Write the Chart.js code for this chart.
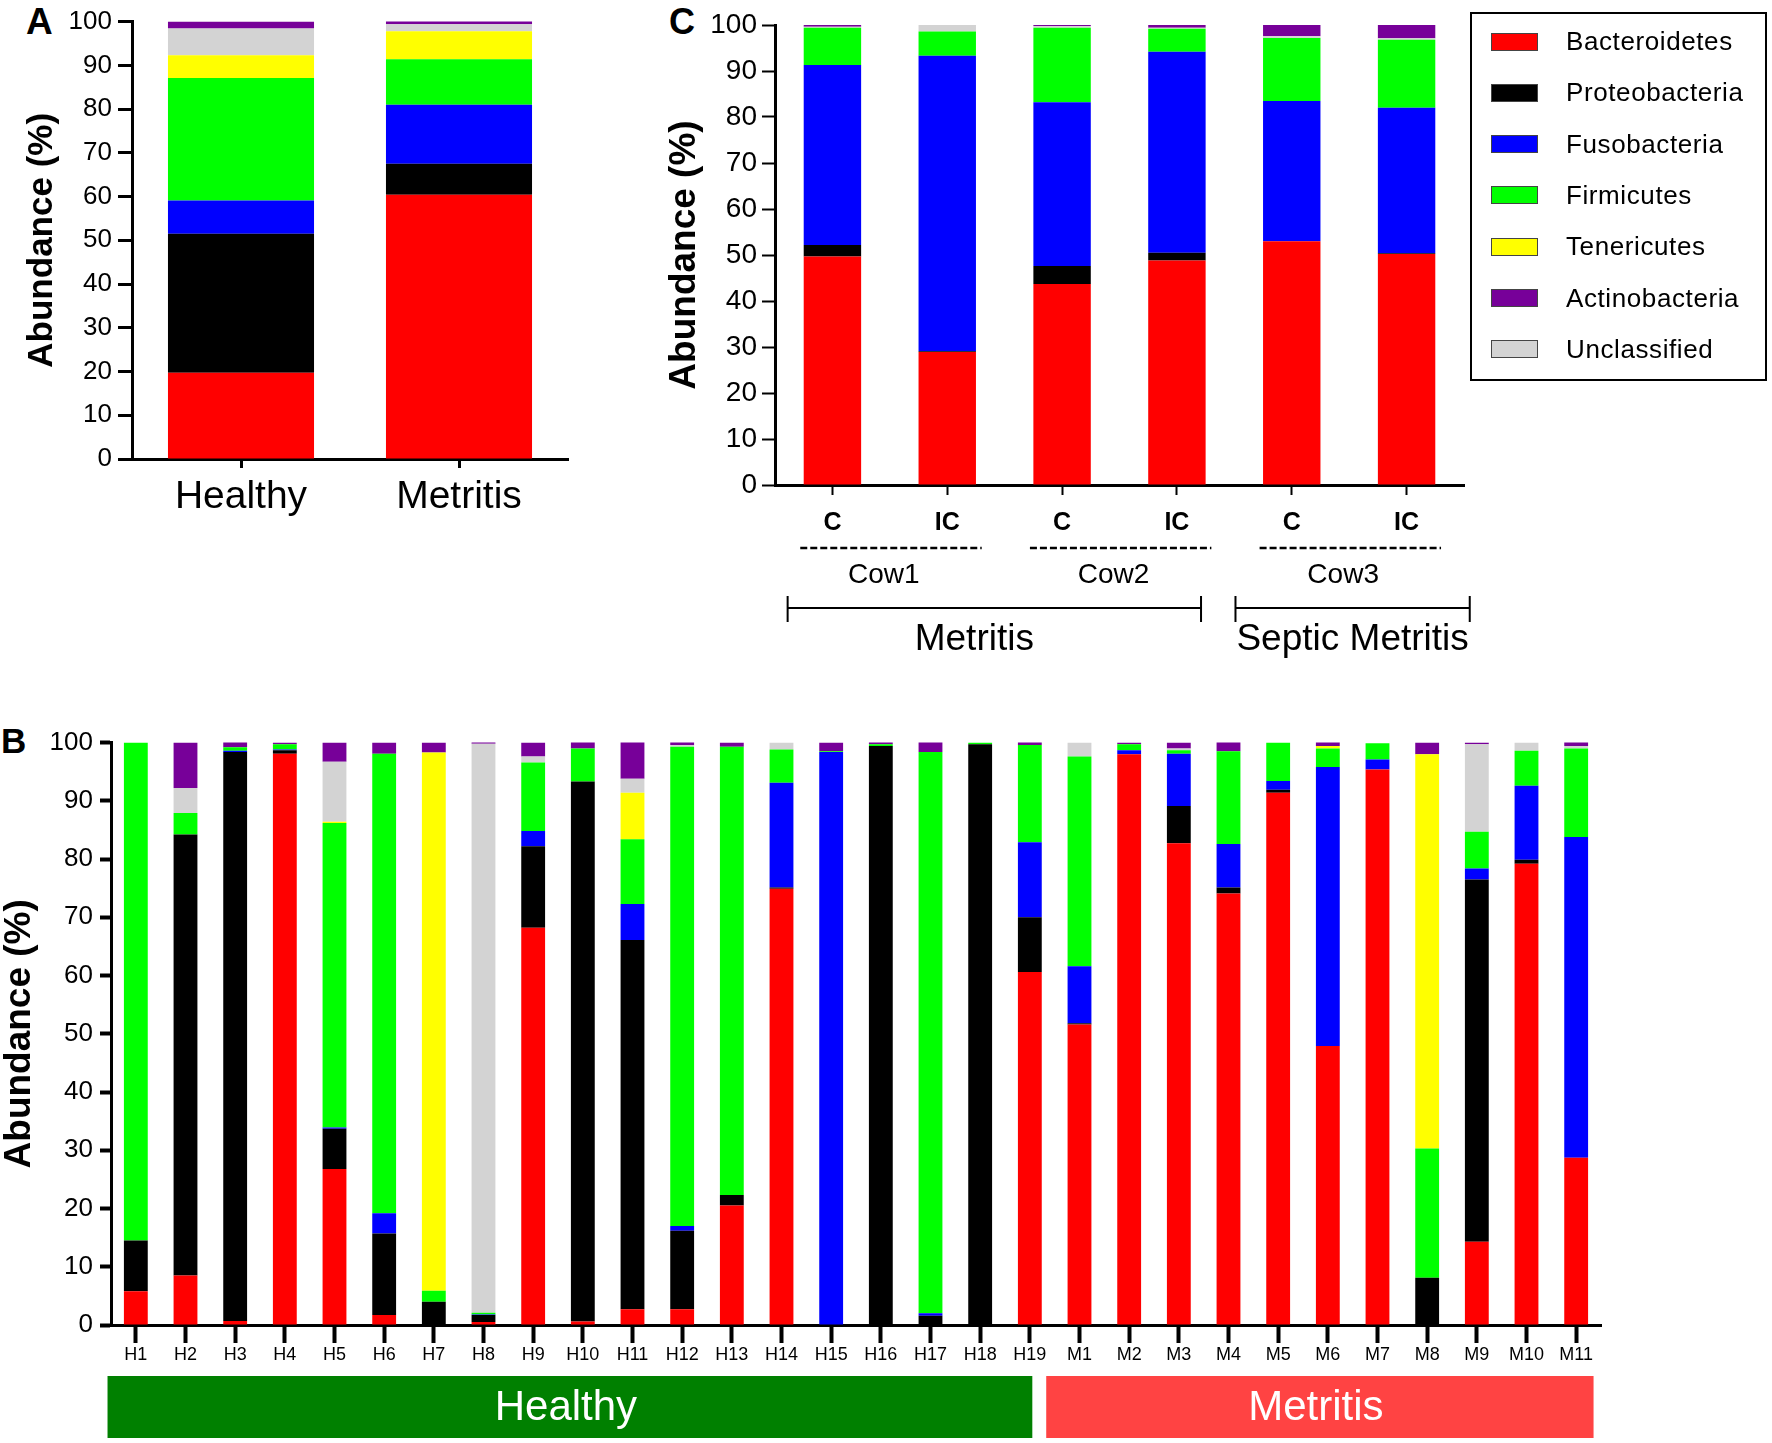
<!DOCTYPE html>
<html>
<head>
<meta charset="utf-8">
<title>Phylum abundance</title>
<script src="https://cdn.jsdelivr.net/npm/chart.js@4.4.0/dist/chart.umd.min.js"></script>
<style>
  body { margin: 0; background: #fff; width: 1772px; height: 1443px; position: relative; overflow: hidden;
         font-family: 'Liberation Sans', Arial, sans-serif; color: #000; }
  .panel { position: absolute; }
  .tag { position: absolute; font-weight: bold; line-height: 1; }
  #legend { position: absolute; left: 1470px; top: 12px; width: 293px; height: 365px; border: 2px solid #000; }
  #legend .item { position: absolute; left: 19px; height: 26px; display: flex; align-items: center; white-space: nowrap; }
  #legend .sw { width: 45px; height: 16px; border: 1px solid #444; margin-right: 28px; }
  #legend .lbl { font-size: 26px; letter-spacing: 0.6px; }
</style>
</head>
<body>
<div class="tag" style="left:26px;top:3px;font-size:37px">A</div>
<div class="tag" style="left:669px;top:4px;font-size:36px">C</div>
<div class="tag" style="left:1px;top:723px;font-size:35px">B</div>

<div class="panel" style="left:0;top:0;width:580px;height:530px"><canvas id="chartA" width="580" height="530"></canvas></div>
<div class="panel" style="left:640px;top:0;width:840px;height:670px"><canvas id="chartC" width="840" height="670"></canvas></div>
<div class="panel" style="left:0;top:720px;width:1640px;height:723px"><canvas id="chartB" width="1640" height="723"></canvas></div>
<div id="legend"></div>

<script>
const FONT = "'Liberation Sans', Arial, sans-serif";

const phyla = ['Bacteroidetes', 'Proteobacteria', 'Fusobacteria', 'Firmicutes', 'Tenericutes', 'Actinobacteria', 'Unclassified'];
const phylumColors = ['#ff0000', '#000000', '#0000ff', '#00ff00', '#ffff00', '#770099', '#d3d3d3'];
// bottom -> top of each bar (Unclassified sits under Actinobacteria)
const stackOrder = [0, 1, 2, 3, 4, 6, 5];

// ---- panel A : group means
const groupsA = ['Healthy', 'Metritis'];
const bacteroidetesA  = [19.7, 60.4];
const proteobacteriaA = [31.8, 7.1];
const fusobacteriaA   = [7.6, 13.5];
const firmicutesA     = [28.0, 10.4];
const tenericutesA    = [5.2, 6.4];
const actinobacteriaA = [1.6, 1.0];
const unclassifiedA   = [6.1, 1.6];

// ---- panel C : caruncle (C) vs intercaruncle (IC)
const samplesC = ['C', 'IC', 'C', 'IC', 'C', 'IC'];
const cowsC = ['Cow1', 'Cow2', 'Cow3'];
const conditionsC = ['Metritis', 'Septic Metritis'];
const conditionSpanC = [[0, 3], [4, 5]];
const bacteroidetesC  = [49.7, 28.9, 43.7, 48.8, 53.0, 50.2];
const proteobacteriaC = [2.5, 0.2, 3.9, 1.7, 0, 0.2];
const fusobacteriaC   = [39.1, 64.2, 35.6, 43.7, 30.5, 31.6];
const firmicutesC     = [8.1, 5.3, 16.2, 5.0, 13.7, 14.8];
const tenericutesC    = [0, 0, 0, 0, 0, 0];
const actinobacteriaC = [0.5, 0, 0.8, 0.9, 2.6, 3.6];
const unclassifiedC   = [0.2, 1.5, 0.4, 0.2, 0.4, 0.3];

// ---- panel B : individual cows
const samplesB = ['H1', 'H2', 'H3', 'H4', 'H5', 'H6', 'H7', 'H8', 'H9', 'H10', 'H11', 'H12', 'H13', 'H14', 'H15',
                  'H16', 'H17', 'H18', 'H19', 'M1', 'M2', 'M3', 'M4', 'M5', 'M6', 'M7', 'M8', 'M9', 'M10', 'M11'];
const groupsB = ['Healthy', 'Metritis'];
const groupCountsB = [19, 11];
const bacteroidetesB  = [5.8, 8.5, 0.7, 98.1, 26.8, 1.7, 0, 0.5, 68.2, 0.6, 2.7, 2.7, 20.5, 74.9, 0,
                         0, 0, 0, 60.6, 51.6, 98.0, 82.7, 74.1, 91.4, 47.9, 95.4, 0, 14.3, 79.2, 28.7];
const proteobacteriaB = [8.7, 75.7, 97.7, 0.6, 6.9, 14.0, 4.0, 1.2, 14.0, 92.7, 63.4, 13.5, 1.8, 0.2, 0,
                         99.4, 1.6, 99.7, 9.4, 0.2, 0, 6.4, 1.0, 0.5, 0, 0, 8.1, 62.2, 0.7, 0];
const fusobacteriaB   = [0, 0, 0.2, 0.1, 0.2, 3.5, 0, 0.1, 2.6, 0, 6.2, 0.8, 0, 18.0, 98.4,
                         0, 0.4, 0, 12.9, 9.8, 0.7, 9.0, 7.5, 1.5, 47.9, 1.7, 0, 1.9, 12.7, 55.1];
const firmicutesB     = [85.5, 3.7, 0.6, 0.9, 52.3, 78.9, 1.9, 0.3, 11.8, 5.7, 11.1, 82.3, 77.0, 5.7, 0.1,
                         0.3, 96.4, 0.3, 16.7, 36.0, 1.0, 0.6, 15.9, 6.6, 3.2, 2.8, 22.2, 6.3, 6.0, 15.2];
const tenericutesB    = [0, 0, 0, 0, 0.2, 0, 92.4, 0, 0, 0, 8.0, 0, 0, 0, 0,
                         0, 0, 0, 0, 0, 0, 0, 0, 0, 0.4, 0, 67.7, 0, 0, 0];
const actinobacteriaB = [0, 7.8, 1.0, 0.3, 3.3, 1.9, 1.7, 0.5, 2.4, 1.2, 6.4, 0.6, 0.7, 0, 1.5,
                         0.5, 1.7, 0, 0.5, 0, 0.3, 1.0, 1.7, 0, 0.8, 0, 2.0, 0.3, 0, 0.8];
const unclassifiedB   = [0, 4.3, 0, 0, 10.3, 0, 0, 97.7, 1.0, 0, 2.4, 0.3, 0, 1.2, 0,
                         0, 0, 0, 0, 2.4, 0, 0.3, 0, 0, 0, 0, 0, 15.0, 1.4, 0.4];

function stackedSets(series, barPercentage) {
	return stackOrder.map(i => ({
		label: phyla[i],
		data: series[i],
		backgroundColor: phylumColors[i],
		borderWidth: 0,
		barPercentage: barPercentage,
		categoryPercentage: 1
	}));
}

function yAxis(o) {
	return {
		stacked: true,
		min: 0,
		max: 100,
		afterFit: (s) => { s.width = o.width; },
		border: { color: '#000', width: o.border },
		grid: { drawOnChartArea: false, tickLength: o.tick, tickWidth: o.tickWidth, tickColor: '#000' },
		ticks: { stepSize: 10, color: '#000', padding: o.pad, font: { family: FONT, size: o.size } },
		title: {
			display: true,
			text: 'Abundance (%)',
			color: '#000',
			padding: { top: o.titlePad, bottom: 0 },
			font: { family: FONT, size: o.titleSize, weight: 'bold', lineHeight: 1 }
		}
	};
}

function xAxis(o) {
	return {
		stacked: true,
		afterFit: (s) => { s.height = o.height; },
		border: { color: '#000', width: o.border },
		grid: { drawOnChartArea: false, offset: false, tickLength: o.tick, tickWidth: o.tickWidth, tickColor: '#000' },
		ticks: {
			color: '#000', padding: o.pad, autoSkip: false, maxRotation: 0,
			font: { family: FONT, size: o.size, weight: o.weight || 'normal' }
		}
	};
}

function baseOptions(padding, x, y) {
	return {
		responsive: false,
		animation: false,
		layout: { padding: padding, autoPadding: false },
		plugins: { legend: { display: false }, tooltip: { enabled: false } },
		scales: { x: x, y: y }
	};
}

// ---- panel A
new Chart(document.getElementById('chartA'), {
	type: 'bar',
	data: {
		labels: groupsA,
		datasets: stackedSets([bacteroidetesA, proteobacteriaA, fusobacteriaA, firmicutesA,
		                       tenericutesA, actinobacteriaA, unclassifiedA], 0.67)
	},
	options: baseOptions({ top: 17, right: 12, bottom: 0, left: 0 },
		xAxis({ height: 71, border: 3, tick: 9, tickWidth: 3, pad: 6, size: 39 }),
		yAxis({ width: 132, border: 3, tick: 14, tickWidth: 3, pad: 6, size: 26, titlePad: 25, titleSize: 35 }))
});

// ---- panel C, with cow / condition annotations under the axis
const cowAnnotations = {
	id: 'cowAnnotations',
	afterDraw(chart) {
		const ctx = chart.ctx;
		const x = chart.scales.x;
		const base = chart.chartArea.bottom;
		const sp = x.getPixelForValue(1) - x.getPixelForValue(0);
		ctx.save();
		ctx.strokeStyle = '#000';
		ctx.fillStyle = '#000';
		ctx.textAlign = 'center';
		ctx.textBaseline = 'middle';

		cowsC.forEach((cow, k) => {
			const a = x.getPixelForValue(2 * k);
			const b = x.getPixelForValue(2 * k + 1);
			ctx.lineWidth = 2.5;
			ctx.setLineDash([7, 3]);
			ctx.beginPath();
			ctx.moveTo(a - 0.28 * sp, base + 63);
			ctx.lineTo(b + 0.3 * sp, base + 63);
			ctx.stroke();
			ctx.setLineDash([]);
			ctx.font = '28px ' + FONT;
			ctx.fillText(cow, (a + b) / 2 - 6, base + 90);
		});

		const edges = [[-0.39, 0.21], [-0.49, 0.55]];
		const shift = [-20, 0];
		ctx.lineWidth = 2;
		conditionsC.forEach((name, k) => {
			const l = x.getPixelForValue(conditionSpanC[k][0]) + edges[k][0] * sp;
			const r = x.getPixelForValue(conditionSpanC[k][1]) + edges[k][1] * sp;
			const y = base + 123;
			ctx.beginPath();
			ctx.moveTo(l, y); ctx.lineTo(r, y);
			ctx.moveTo(l, y - 12); ctx.lineTo(l, y + 14);
			ctx.moveTo(r, y - 12); ctx.lineTo(r, y + 14);
			ctx.stroke();
			ctx.font = '37px ' + FONT;
			ctx.fillText(name, (l + r) / 2 + shift[k], base + 155);
		});
		ctx.restore();
	}
};

new Chart(document.getElementById('chartC'), {
	type: 'bar',
	data: {
		labels: samplesC,
		datasets: stackedSets([bacteroidetesC, proteobacteriaC, fusobacteriaC, firmicutesC,
		                       tenericutesC, actinobacteriaC, unclassifiedC], 0.5)
	},
	options: baseOptions({ top: 25, right: 16, bottom: 0, left: 0 },
		xAxis({ height: 185, border: 3, tick: 10, tickWidth: 2, pad: 13, size: 25, weight: 'bold' }),
		yAxis({ width: 135, border: 3, tick: 13, tickWidth: 2, pad: 5, size: 28, titlePad: 26, titleSize: 37 })),
	plugins: [cowAnnotations]
});

// ---- panel B, with the Healthy / Metritis bands
const groupBands = {
	id: 'groupBands',
	afterDraw(chart) {
		const ctx = chart.ctx;
		const x = chart.scales.x;
		const base = chart.chartArea.bottom;
		const sp = x.getPixelForValue(1) - x.getPixelForValue(0);
		const fills = ['#008000', '#ff4343'];
		const edges = [[-0.57, 0.05], [-0.67, 0.35]];
		let first = 0;
		ctx.save();
		groupsB.forEach((name, k) => {
			const last = first + groupCountsB[k] - 1;
			const l = x.getPixelForValue(first) + edges[k][0] * sp;
			const r = x.getPixelForValue(last) + edges[k][1] * sp;
			const top = base + 51, h = 62;
			ctx.fillStyle = fills[k];
			ctx.fillRect(l, top, r - l, h);
			ctx.fillStyle = '#fff';
			ctx.font = '42px ' + FONT;
			ctx.textAlign = 'center';
			ctx.textBaseline = 'middle';
			ctx.fillText(name, (l + r) / 2 - 4, top + h / 2 + 1);
			first = last + 1;
		});
		ctx.restore();
	}
};

new Chart(document.getElementById('chartB'), {
	type: 'bar',
	data: {
		labels: samplesB,
		datasets: stackedSets([bacteroidetesB, proteobacteriaB, fusobacteriaB, firmicutesB,
		                       tenericutesB, actinobacteriaB, unclassifiedB], 0.48)
	},
	options: baseOptions({ top: 19, right: 39, bottom: 0, left: 0 },
		xAxis({ height: 118, border: 3, tick: 18, tickWidth: 4, pad: 1, size: 18 }),
		yAxis({ width: 111, border: 3, tick: 11, tickWidth: 4, pad: 7, size: 26, titlePad: 1, titleSize: 37 })),
	plugins: [groupBands]
});

// ---- shared legend
const legend = document.getElementById('legend');
phyla.forEach((name, i) => {
	const row = document.createElement('div');
	row.className = 'item';
	row.style.top = (14.5 + i * 51.3) + 'px';
	row.innerHTML = '<span class="sw" style="background:' + phylumColors[i] + '"></span><span class="lbl">' + name + '</span>';
	legend.appendChild(row);
});
</script>
</body>
</html>
